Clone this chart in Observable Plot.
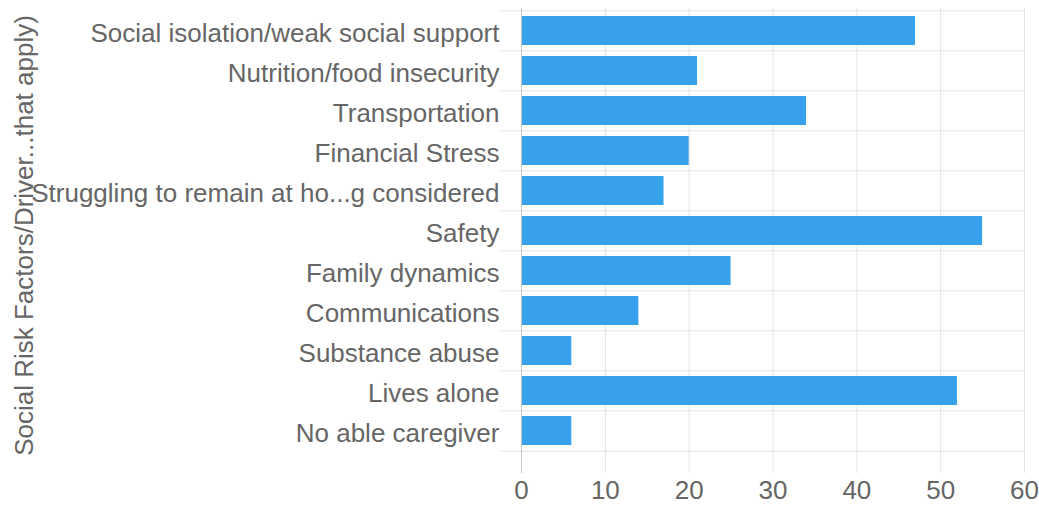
<!DOCTYPE html>
<html>
<head>
<meta charset="utf-8">
<script src="https://cdn.jsdelivr.net/npm/d3@7"></script>
<script src="https://cdn.jsdelivr.net/npm/@observablehq/plot@0.6"></script>
<style>
  html, body { margin: 0; padding: 0; background: #fff; }
  #chart svg { display: block; }
</style>
</head>
<body>
<div id="chart"></div>
<script>
const categories = [
  "Social isolation/weak social support",
  "Nutrition/food insecurity",
  "Transportation",
  "Financial Stress",
  "Struggling to remain at ho...g considered",
  "Safety",
  "Family dynamics",
  "Communications",
  "Substance abuse",
  "Lives alone",
  "No able caregiver"
];
const values = [47, 21, 34, 20, 17, 55, 25, 14, 6, 52, 6];
const xTicks = [0, 10, 20, 30, 40, 50, 60];
const yTitle = "Social Risk Factors/Driver...that apply)";

const data = categories.map((c, i) => ({category: c, value: values[i]}));

const W = 1039, H = 506;
const mL = 521, mR = 15, mT = 8, mB = 53;
const step = (H - mT - mB) / categories.length;
const font = "'Liberation Sans', Arial, Helvetica, sans-serif";
const textColor = "#666666";
const gridColor = "#e4e4e4";

const chart = Plot.plot({
  width: W,
  height: H,
  marginLeft: mL,
  marginRight: mR,
  marginTop: mT,
  marginBottom: mB,
  style: {fontFamily: font, fontSize: "26px", color: textColor, background: "#fff"},
  x: {domain: [0, 60], ticks: xTicks},
  y: {domain: categories, paddingInner: 0.28, paddingOuter: 0.14},
  marks: [
    // vertical grid lines (extend below as ticks)
    Plot.ruleX(xTicks.filter(d => d !== 0), {stroke: gridColor, strokeWidth: 1, insetBottom: -20}),
    // horizontal grid lines between categories (extend left as ticks)
    Plot.ruleY(categories, {y: d => d, dy: -step / 2, stroke: gridColor, insetLeft: -21}),
    Plot.ruleY(categories.slice(-1), {y: d => d, dy: step / 2, stroke: gridColor, insetLeft: -21}),
    Plot.barX(data, {x: "value", y: "category", fill: "#36A2EB"}),
    // zero axis line
    Plot.ruleX([0], {stroke: "#c4c4c4", strokeWidth: 1, insetBottom: -20}),
    Plot.axisX({ticks: xTicks, tickSize: 0, tickPadding: 27, label: null, fill: textColor, fontSize: 26}),
    Plot.axisY({tickSize: 0, tickPadding: 22, label: null, fill: textColor, fontSize: 26, dy: 3}),
    Plot.text([yTitle], {
      frameAnchor: "middle",
      rotate: -90,
      lineAnchor: "bottom",
      fill: textColor,
      fontSize: 26,
      dx: 32 - (mL + (W - mR)) / 2,
      dy: 235 - (mT + (H - mB)) / 2
    })
  ]
});
document.getElementById("chart").appendChild(chart);
</script>
</body>
</html>
